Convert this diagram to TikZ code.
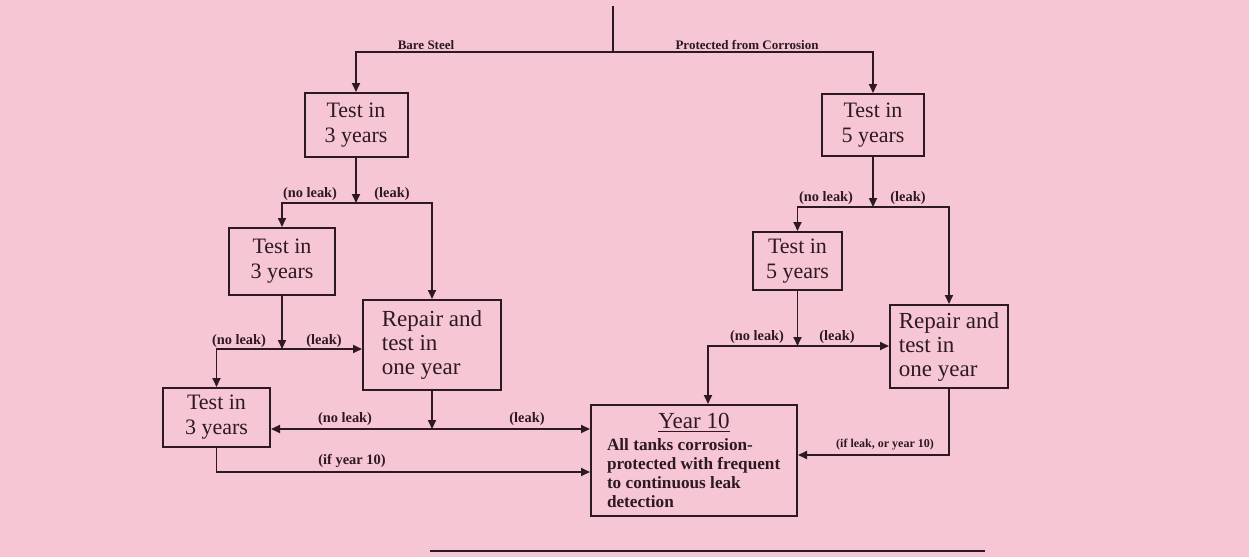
\documentclass[tikz,border=0pt]{standalone}
\usepackage{fontspec}
\setmainfont{Liberation Serif}
\usetikzlibrary{arrows.meta, calc}
\definecolor{paper}{RGB}{247,198,212}
\definecolor{ink}{RGB}{45,25,35}

\begin{document}
\begin{tikzpicture}[x=0.5pt, y=-0.5pt,
    box/.style={draw=ink, line width=1pt, inner sep=0pt, text=ink, font=\fontsize{11}{12.5}\selectfont},
    lbl/.style={inner sep=0pt, text=ink, font=\bfseries\fontsize{7.2}{8}\selectfont},
    arr/.style={draw=ink, line width=0.9pt, -{Triangle[length=4.5pt,width=4pt]}},
    wire/.style={draw=ink, line width=0.9pt}]
    % Fondo della pagina
    \fill[paper] (0,0) rectangle (1249,557);
    \useasboundingbox (0,0) rectangle (1249,557);

    % Caselle
    \node[box, minimum width=51.5pt, minimum height=32pt, align=center] (t3a) at (356,125) {Test in\\3 years};
    \node[box, minimum width=51pt, minimum height=31pt, align=center] (t5a) at (873,125) {Test in\\5 years};
    \node[box, minimum width=53pt, minimum height=33.5pt, align=center] (t3b) at (282,261.5) {Test in\\3 years};
    \node[box, minimum width=44.5pt, minimum height=29pt, align=center] (t5b) at (797.5,261) {Test in\\5 years};
    \node[box, minimum width=69pt, minimum height=45pt, align=left, font=\fontsize{11.5}{12}\selectfont] (rep1) at (432,345) {Repair and\\test in\\one year};
    \node[box, minimum width=59pt, minimum height=41.5pt, align=left, font=\fontsize{11.5}{12}\selectfont] (rep2) at (949,346.5) {Repair and\\test in\\one year};
    \node[box, minimum width=53.5pt, minimum height=29.5pt, align=center] (t3c) at (216.5,417.5) {Test in\\3 years};
    \node[box, minimum width=103pt, minimum height=55.5pt, align=left, font=\bfseries\fontsize{8.6}{9.5}\selectfont] (y10) at (694,460.5)
        {\makebox[87pt]{\mdseries\fontsize{11.5}{13}\selectfont\underline{Year 10}}\\[1.5pt]
         All tanks corrosion-\\protected with frequent\\to continuous leak\\detection};

    % Punti di diramazione
    \coordinate (top) at (613,6);
    \coordinate (j0) at (613,52);
    \coordinate (j1) at (356,203);
    \coordinate (j2) at (282,349);
    \coordinate (j3) at (432,429);
    \coordinate (j4) at (873,207);
    \coordinate (j5) at (797.5,346);
    \coordinate (k5) at (708,346);
    \coordinate (k6) at (949,455);
    \coordinate (k7) at (591,472);

    % Frecce a sinistra
    \draw[wire] (top) -- (j0);
    \draw[arr] (j0) -| (t3a.north);
    \draw[arr] (j0) -| (t5a.north);
    \draw[arr] (t3a) -- (j1);
    \draw[arr] (j1) -| (t3b.north);
    \draw[arr] (j1) -| (rep1.north);
    \draw[arr] (t3b) -- (j2);
    \draw[arr] (j2) -- (rep1.west |- j2);
    \draw[arr] (j2) -| (t3c.north);
    \draw[arr] (rep1) -- (j3);
    \draw[arr] (j3) -- (t3c.east |- j3);
    \draw[arr] (j3) -- (y10.west |- j3);
    \draw[arr] (t3c) |- (y10.west |- k7);

    % Frecce a destra
    \draw[arr] (t5a) -- (j4);
    \draw[arr] (j4) -| (t5b.north);
    \draw[arr] (j4) -| (rep2.north);
    \draw[arr] (t5b) -- (j5);
    \draw[arr] (j5) -- (rep2.west |- j5);
    \draw[arr] (j5) -- (k5) -- (k5 |- y10.north);
    \draw[arr] (rep2) |- (y10.east |- k6);

    % Etichette
    \node[lbl, font=\bfseries\fontsize{6.5}{7}\selectfont] (bare) at (426,45) {Bare Steel};
    \node[lbl, font=\bfseries\fontsize{6.5}{7}\selectfont] (prot) at (747,45) {Protected from Corrosion};
    \node[lbl] (nl1) at (310,194) {(no leak)};
    \node[lbl] (lk1) at (392,194) {(leak)};
    \node[lbl] (nl2) at (239,341) {(no leak)};
    \node[lbl] (lk2) at (324,341) {(leak)};
    \node[lbl] (nl3) at (345,419) {(no leak)};
    \node[lbl] (lk3) at (527,419) {(leak)};
    \node[lbl] (if10) at (352,461) {(if year 10)};
    \node[lbl] (nl4) at (826,198) {(no leak)};
    \node[lbl] (lk4) at (908,198) {(leak)};
    \node[lbl] (nl5) at (757,337) {(no leak)};
    \node[lbl] (lk5) at (837,337) {(leak)};
    \node[lbl, font=\bfseries\fontsize{6}{7}\selectfont] (ifl) at (885,445) {(if leak, or year 10)};

    % Riga in fondo alla pagina
    \draw[ink, line width=1pt] (430,551) -- (985,551);
\end{tikzpicture}
\end{document}
